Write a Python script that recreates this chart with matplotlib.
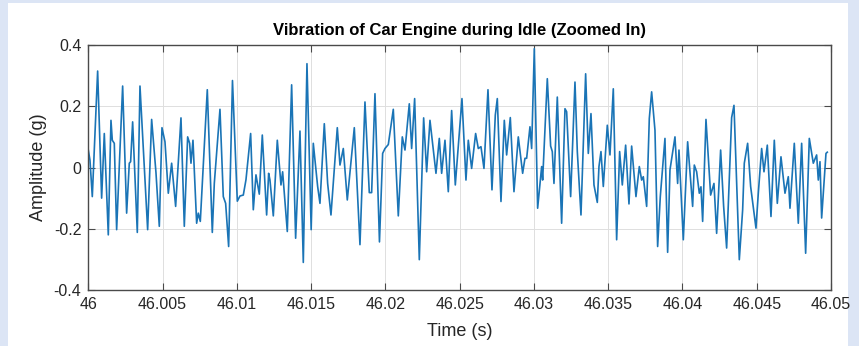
import matplotlib
matplotlib.use("Agg")
import matplotlib.pyplot as plt
import numpy as np

# Engine vibration trace, 46.000 s to 46.050 s (time offsets in ms, amplitude in g)
time_ms = [
    0.000, 0.112, 0.269, 0.629, 0.898, 1.077, 1.346, 1.526, 1.616, 1.750,
    1.908, 2.312, 2.581, 2.760, 2.850, 2.985, 3.299, 3.479, 3.995, 4.264,
    4.376, 4.556, 4.780, 4.960, 5.162, 5.386, 5.611, 5.880, 6.239, 6.463,
    6.688, 6.822, 6.912, 7.047, 7.294, 7.405, 7.540, 8.011, 8.348, 8.483,
    8.864, 9.088, 9.246, 9.448, 9.706, 10.031, 10.211, 10.435, 10.615, 10.929,
    11.108, 11.288, 11.512, 11.714, 12.006, 12.141, 12.230, 12.455, 12.724, 12.971,
    13.083, 13.397, 13.689, 13.958, 14.250, 14.474, 14.721, 15.004, 15.147, 15.440,
    15.596, 15.888, 16.113, 16.337, 16.763, 16.943, 17.167, 17.436, 17.908, 18.289,
    18.626, 18.917, 19.075, 19.299, 19.602, 19.816, 19.973, 20.197, 20.533, 20.870,
    21.139, 21.319, 21.610, 21.768, 21.970, 22.284, 22.576, 22.778, 23.002, 23.406,
    23.630, 23.788, 24.012, 24.236, 24.461, 24.707, 25.156, 25.425, 25.582, 25.807,
    26.076, 26.256, 26.435, 26.637, 26.907, 27.176, 27.400, 27.535, 27.782, 28.006,
    28.163, 28.410, 28.657, 28.948, 29.241, 29.397, 29.510, 29.734, 29.847, 30.026,
    30.250, 30.520, 30.587, 30.901, 31.125, 31.237, 31.350, 31.574, 31.866, 32.091,
    32.203, 32.472, 32.764, 32.921, 33.168, 33.482, 33.661, 33.841, 34.043, 34.267,
    34.379, 34.514, 34.671, 34.940, 35.120, 35.344, 35.569, 35.771, 35.950, 36.175,
    36.399, 36.579, 36.870, 37.095, 37.252, 37.364, 37.589, 37.768, 37.925, 38.149,
    38.329, 38.508, 38.822, 39.002, 39.159, 39.496, 39.675, 39.765, 40.057, 40.349,
    40.685, 40.797, 40.955, 41.134, 41.246, 41.359, 41.583, 41.897, 42.121, 42.301,
    42.570, 42.772, 42.974, 43.311, 43.468, 43.827, 44.052, 44.163, 44.388, 44.590,
    44.949, 45.106, 45.331, 45.488, 45.712, 45.959, 46.183, 46.385, 46.632, 46.902,
    47.125, 47.238, 47.529, 47.799, 48.024, 48.293, 48.539, 48.808, 49.033, 49.145,
    49.258, 49.370, 49.662, 49.750,
]

amplitude_g = [
    0.057, 0.024, -0.095, 0.315, -0.100, 0.111, -0.220, 0.154, 0.089, 0.079,
    -0.203, 0.266, -0.149, 0.014, 0.019, 0.149, -0.212, 0.266, -0.203, 0.157,
    0.089, -0.017, -0.192, 0.130, 0.084, -0.084, 0.014, -0.127, 0.162, -0.192,
    0.100, 0.079, 0.014, 0.089, -0.182, -0.149, -0.176, 0.254, -0.212, -0.052,
    0.190, -0.095, -0.117, -0.258, 0.284, -0.110, -0.093, -0.090, -0.040, 0.111,
    -0.138, -0.024, -0.087, 0.106, -0.155, -0.019, -0.041, -0.158, 0.089, -0.057,
    -0.014, -0.209, 0.270, -0.231, 0.119, -0.310, 0.339, -0.203, 0.079, -0.062,
    -0.117, 0.143, -0.052, -0.155, 0.130, 0.008, 0.062, -0.106, 0.130, -0.252,
    0.214, -0.082, -0.082, 0.241, -0.243, 0.046, 0.062, 0.075, 0.190, -0.158,
    0.100, 0.057, 0.208, 0.062, 0.225, -0.301, 0.162, -0.014, 0.154, -0.019,
    0.095, -0.019, 0.089, -0.079, 0.186, -0.057, 0.225, -0.041, 0.089, -0.003,
    0.111, 0.062, 0.068, -0.003, 0.254, -0.073, 0.171, 0.225, -0.111, 0.154,
    0.041, 0.163, -0.079, 0.100, -0.019, 0.030, 0.030, 0.133, 0.062, 0.388,
    -0.133, 0.003, -0.041, 0.290, 0.070, 0.052, -0.052, 0.230, -0.182, 0.192,
    0.182, -0.095, 0.279, 0.052, -0.155, 0.306, 0.046, 0.176, -0.057, -0.114,
    0.003, 0.052, -0.062, 0.138, 0.041, 0.257, -0.236, 0.052, -0.057, 0.073,
    -0.119, 0.070, -0.095, 0.003, -0.041, -0.030, -0.127, 0.160, 0.247, 0.122,
    -0.258, -0.095, 0.095, -0.277, -0.008, 0.100, -0.052, 0.057, -0.236, 0.084,
    -0.127, 0.008, -0.014, -0.084, -0.063, -0.176, 0.157, -0.090, -0.052, -0.215,
    0.057, -0.127, -0.263, 0.163, 0.203, -0.301, -0.138, 0.014, 0.079, -0.062,
    -0.198, -0.084, 0.062, -0.014, 0.073, -0.160, 0.089, -0.117, 0.035, -0.084,
    -0.030, -0.133, 0.079, -0.182, 0.079, -0.280, 0.095, 0.014, 0.041, -0.041,
    0.019, -0.165, 0.046, 0.050,
]

x_ticks = [46.0, 46.005, 46.01, 46.015, 46.02, 46.025, 46.03, 46.035, 46.04, 46.045, 46.05]
x_tick_labels = ["46", "46.005", "46.01", "46.015", "46.02", "46.025",
                 "46.03", "46.035", "46.04", "46.045", "46.05"]
y_ticks = [-0.4, -0.2, 0.0, 0.2, 0.4]
y_tick_labels = ["-0.4", "-0.2", "0", "0.2", "0.4"]

t = 46.0 + np.asarray(time_ms) / 1000.0
a = np.asarray(amplitude_g)

plt.rcParams["font.family"] = ["Liberation Sans", "DejaVu Sans"]

fig = plt.figure(figsize=(8.59, 3.46), dpi=100, facecolor="#dce5f5")
# white panel behind the axes
panel = fig.add_axes([8 / 859, 0.0, (848 - 8) / 859, 1 - 3 / 346])
panel.set_facecolor("white")
panel.set_xticks([])
panel.set_yticks([])
for s in panel.spines.values():
    s.set_visible(False)
panel.set_zorder(0)

ax = fig.add_axes([88.3 / 859, 1 - 290 / 346, (831 - 88.3) / 859, (290 - 45) / 346])
ax.set_zorder(1)
ax.plot(t, a, color="#1a74b6", linewidth=1.2, solid_joinstyle="round")

ax.set_xlim(46.0, 46.05)
ax.set_ylim(-0.4, 0.4)
ax.set_xticks(x_ticks)
ax.set_xticklabels(x_tick_labels)
ax.set_yticks(y_ticks)
ax.set_yticklabels(y_tick_labels)

ax.grid(True, color="#dedede", linewidth=0.7)
ax.set_axisbelow(True)
edge = "#4a4a4a"
for s in ax.spines.values():
    s.set_color(edge)
    s.set_linewidth(1.0)
ax.tick_params(direction="in", length=5, width=0.8, colors=edge,
               labelcolor="#262626", labelsize=11.5, top=True, right=True, pad=5)

ax.set_title("Vibration of Car Engine during Idle (Zoomed In)", fontsize=12,
             fontweight="bold", color="black", pad=7)
ax.set_xlabel("Time (s)", fontsize=13, color="#262626", labelpad=8)
ax.set_ylabel("Amplitude (g)", fontsize=13, color="#262626", labelpad=5)

fig.savefig("out.png", dpi=100, facecolor=fig.get_facecolor())
